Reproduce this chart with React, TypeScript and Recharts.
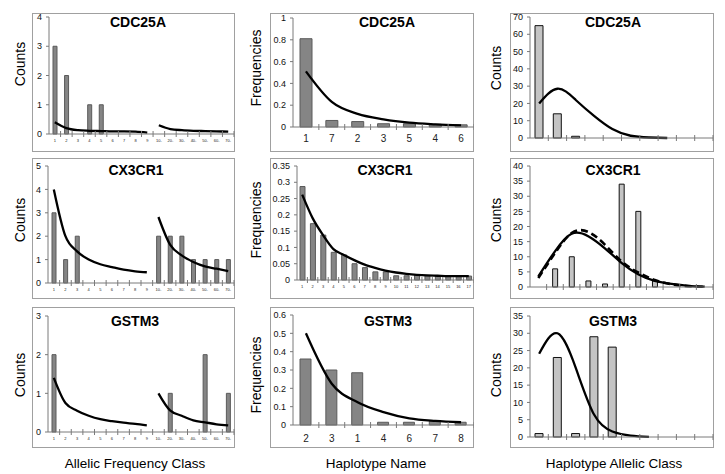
import { Bar, ComposedChart, Line, XAxis, YAxis } from "recharts";

const FONT = "'Liberation Sans', Arial, Helvetica, sans-serif";

// ---- column 1: allelic frequency class ----
const freqClasses = ["1", "2", "3", "4", "5", "6", "7", "8", "9", "10-", "20-", "30-", "40-", "50-", "60-", "70-"];

const cdcFreqCounts = [3, 2, 0, 1, 1, 0, 0, 0, 0, 0, 0, 0, 0, 0, 0, 0];
const cdcFreqFitA = [0.4, 0.2, 0.13, 0.11, 0.1, 0.09, 0.09, 0.08, 0.05];
const cdcFreqFitB = [null, null, null, null, null, null, null, null, null, 0.3, 0.17, 0.13, 0.11, 0.1, 0.09, 0.08];

const cx3FreqCounts = [3, 1, 2, 0, 0, 0, 0, 0, 0, 2, 2, 2, 1, 1, 1, 1];
const cx3FreqFitA = [4.0, 2.0, 1.35, 1.0, 0.8, 0.68, 0.57, 0.5, 0.46];
const cx3FreqFitB = [null, null, null, null, null, null, null, null, null, 2.82, 1.64, 1.18, 0.9, 0.71, 0.61, 0.51];

const gstFreqCounts = [2, 0, 0, 0, 0, 0, 0, 0, 0, 0, 1, 0, 0, 2, 0, 1];
const gstFreqFitA = [1.4, 0.75, 0.55, 0.42, 0.33, 0.28, 0.24, 0.21, 0.17];
const gstFreqFitB = [null, null, null, null, null, null, null, null, null, 1.0, 0.56, 0.42, 0.3, 0.25, 0.2, 0.17];

// ---- column 2: haplotype name ----
const cdcHaplotypes = ["1", "7", "2", "3", "5", "4", "6"];
const cdcHapFreq = [0.81, 0.06, 0.05, 0.03, 0.03, 0.025, 0.02];
const cdcHapFit = [0.51, 0.23, 0.12, 0.07, 0.04, 0.025, 0.015];

const cx3Haplotypes = ["1", "2", "3", "4", "5", "6", "7", "8", "9", "10", "11", "12", "13", "14", "15", "16", "17"];
const cx3HapFreq = [0.287, 0.173, 0.138, 0.085, 0.077, 0.05, 0.038, 0.025, 0.025, 0.013, 0.013, 0.015, 0.013, 0.012, 0.012, 0.012, 0.012];
const cx3HapFit = [0.262, 0.19, 0.138, 0.095, 0.077, 0.061, 0.047, 0.037, 0.029, 0.023, 0.019, 0.016, 0.014, 0.013, 0.012, 0.012, 0.012];

const gstHaplotypes = ["2", "3", "1", "4", "6", "7", "8"];
const gstHapFreq = [0.36, 0.3, 0.285, 0.015, 0.015, 0.02, 0.015];
const gstHapFit = [0.5, 0.225, 0.124, 0.07, 0.036, 0.022, 0.015];

// ---- column 3: haplotype allelic class ----
const allelicClasses10 = ["1", "2", "3", "4", "5", "6", "7", "8", "9", "10"];
const allelicClasses11 = ["1", "2", "3", "4", "5", "6", "7", "8", "9", "10", "11"];

const cdcClassCounts = [65, 14, 1, 0, 0, 0, 0, 0, 0, 0];
const cdcClassFit = [20, 28.5, 22, 12.8, 5.2, 1.3, 0.3, 0];

const cx3ClassCounts = [0, 6, 10, 2, 1, 34, 25, 2, 0, 0, 0];
const cx3ClassFit = [3.5, 11.8, 17.6, 16.8, 12.8, 8, 4.2, 2, 1, 0.4, 0.1];
const cx3ClassFitAlt = [3.0, 11.2, 17.8, 18.2, 14, 8.5, 4.8, 2.3, 0.9, 0.3, 0.05];

const gstClassCounts = [1, 23, 1, 29, 26, 0, 0, 0, 0, 0];
const gstClassFit = [24.1, 30, 20, 6.5, 1.6, 0.4, 0.05];

type Curve = "monotone" | "natural";

const toRows = (cats: string[], cols: Record<string, (number | null)[]>) =>
  cats.map((name, i) => {
    const row: Record<string, string | number | null> = { name };
    Object.entries(cols).forEach(([k, v]) => {
      row[k] = v[i] ?? null;
    });
    return row;
  });

interface PanelProps {
  box: [number, number, number, number];
  axisX: number;
  plotTop: number;
  plotBottom: number;
  plotRight: number;
  data: Record<string, string | number | null>[];
  yMax: number;
  yTicks: number[];
  title: string;
  titleAt: [number, number];
  barFill: string;
  barStroke: string;
  barSize: number;
  fits: { key: string; dashed?: boolean }[];
  labelSize: number;
  labelGap: number;
  curve?: Curve;
}

function Panel(p: PanelProps) {
  const [left, top, right, bottom] = p.box;
  const width = right - left;
  const height = bottom - top;
  const slot = (p.plotRight - p.axisX) / p.data.length;

  const renderTick = (props: any) => {
    const { x, y, payload } = props;
    return (
      <g>
        <line x1={x + slot / 2} x2={x + slot / 2} y1={y - 3} y2={y + 3} stroke="#7a7a7a" />
        {p.labelSize > 0 && (
          <text
            x={x}
            y={y + p.labelGap}
            textAnchor="middle"
            dominantBaseline="middle"
            fontSize={p.labelSize}
            fill="#222"
          >
            {payload.value}
          </text>
        )}
      </g>
    );
  };

  return (
    <>
      <div
        style={{
          position: "absolute",
          left,
          top,
          width,
          height,
          border: "1px solid #a0a0a0",
          boxSizing: "border-box",
        }}
      />
      <div style={{ position: "absolute", left, top }}>
        <ComposedChart
          width={width}
          height={height}
          data={p.data}
          margin={{ top: p.plotTop - top, right: right - p.plotRight, bottom: 0, left: 0 }}
        >
          <XAxis
            dataKey="name"
            height={bottom - p.plotBottom}
            interval={0}
            tickLine={false}
            tickSize={0}
            tickMargin={0}
            axisLine={{ stroke: "#7a7a7a" }}
            tick={renderTick}
          />
          <YAxis
            width={p.axisX - left}
            domain={[0, p.yMax]}
            ticks={p.yTicks}
            interval={0}
            tickSize={3}
            tickMargin={4}
            axisLine={{ stroke: "#7a7a7a" }}
            tickLine={{ stroke: "#7a7a7a" }}
            tick={{ fontSize: 9, fill: "#111", fontFamily: FONT }}
          />
          <Bar
            dataKey="bars"
            fill={p.barFill}
            stroke={p.barStroke}
            strokeWidth={1}
            barSize={p.barSize}
            isAnimationActive={false}
          />
          {p.fits.map((f) => (
            <Line
              key={f.key}
              dataKey={f.key}
              type={p.curve ?? "monotone"}
              stroke="#000"
              strokeWidth={f.dashed ? 2.6 : 2.3}
              strokeDasharray={f.dashed ? "7 4" : undefined}
              dot={false}
              isAnimationActive={false}
            />
          ))}
        </ComposedChart>
      </div>
      <div
        style={{
          position: "absolute",
          left: p.titleAt[0],
          top: p.titleAt[1],
          transform: "translate(-50%, -50%)",
          fontWeight: "bold",
          fontSize: 14,
          whiteSpace: "nowrap",
        }}
      >
        {p.title}
      </div>
    </>
  );
}

function SideLabel({ x, y, text }: { x: number; y: number; text: string }) {
  return (
    <div
      style={{
        position: "absolute",
        left: x,
        top: y,
        transform: "translate(-50%, -50%) rotate(-90deg)",
        fontSize: 14,
        whiteSpace: "nowrap",
      }}
    >
      {text}
    </div>
  );
}

function BottomLabel({ x, y, text }: { x: number; y: number; text: string }) {
  return (
    <div
      style={{
        position: "absolute",
        left: x,
        top: y,
        transform: "translate(-50%, -50%)",
        fontSize: 13.5,
        whiteSpace: "nowrap",
      }}
    >
      {text}
    </div>
  );
}

const DARK = "#858585";
const DARK_EDGE = "#5a5a5a";
const LIGHT = "#c4c4c4";

export default function App() {
  return (
    <div
      style={{
        position: "absolute",
        left: 0,
        top: 0,
        width: 725,
        height: 474,
        background: "#fff",
        fontFamily: FONT,
        color: "#000",
      }}
    >
      {/* column 1 */}
      <Panel
        box={[32, 13, 235, 152]}
        axisX={49}
        plotTop={17}
        plotBottom={134}
        plotRight={234}
        data={toRows(freqClasses, { bars: cdcFreqCounts, fitA: cdcFreqFitA, fitB: cdcFreqFitB })}
        yMax={4}
        yTicks={[0, 1, 2, 3, 4]}
        title="CDC25A"
        titleAt={[138, 22]}
        barFill={DARK}
        barStroke={DARK_EDGE}
        barSize={4}
        fits={[{ key: "fitA" }, { key: "fitB" }]}
        labelSize={4}
        labelGap={7}
      />
      <Panel
        box={[32, 158, 235, 299]}
        axisX={48}
        plotTop={166}
        plotBottom={283}
        plotRight={234}
        data={toRows(freqClasses, { bars: cx3FreqCounts, fitA: cx3FreqFitA, fitB: cx3FreqFitB })}
        yMax={5}
        yTicks={[0, 1, 2, 3, 4, 5]}
        title="CX3CR1"
        titleAt={[136, 170]}
        barFill={DARK}
        barStroke={DARK_EDGE}
        barSize={4}
        fits={[{ key: "fitA" }, { key: "fitB" }]}
        labelSize={4}
        labelGap={7}
      />
      <Panel
        box={[32, 307, 235, 448]}
        axisX={48}
        plotTop={316}
        plotBottom={432}
        plotRight={234}
        data={toRows(freqClasses, { bars: gstFreqCounts, fitA: gstFreqFitA, fitB: gstFreqFitB })}
        yMax={3}
        yTicks={[0, 1, 2, 3]}
        title="GSTM3"
        titleAt={[135, 321]}
        barFill={DARK}
        barStroke={DARK_EDGE}
        barSize={4}
        fits={[{ key: "fitA" }, { key: "fitB" }]}
        labelSize={4}
        labelGap={7}
      />

      {/* column 2 */}
      <Panel
        box={[270, 13, 474, 152]}
        axisX={293}
        plotTop={18}
        plotBottom={127}
        plotRight={474}
        data={toRows(cdcHaplotypes, { bars: cdcHapFreq, fit: cdcHapFit })}
        yMax={1}
        yTicks={[0, 0.2, 0.4, 0.6, 0.8, 1]}
        title="CDC25A"
        titleAt={[387, 22]}
        barFill={DARK}
        barStroke={DARK_EDGE}
        barSize={12}
        fits={[{ key: "fit" }]}
        labelSize={10}
        labelGap={12}
      />
      <Panel
        box={[270, 158, 474, 299]}
        axisX={297}
        plotTop={166}
        plotBottom={280}
        plotRight={474}
        data={toRows(cx3Haplotypes, { bars: cx3HapFreq, fit: cx3HapFit })}
        yMax={0.35}
        yTicks={[0, 0.05, 0.1, 0.15, 0.2, 0.25, 0.3, 0.35]}
        title="CX3CR1"
        titleAt={[385, 170]}
        barFill={DARK}
        barStroke={DARK_EDGE}
        barSize={5}
        fits={[{ key: "fit" }]}
        labelSize={4}
        labelGap={7}
      />
      <Panel
        box={[270, 307, 474, 448]}
        axisX={293}
        plotTop={315}
        plotBottom={425}
        plotRight={474}
        data={toRows(gstHaplotypes, { bars: gstHapFreq, fit: gstHapFit })}
        yMax={0.6}
        yTicks={[0, 0.1, 0.2, 0.3, 0.4, 0.5, 0.6]}
        title="GSTM3"
        titleAt={[388, 321]}
        barFill={DARK}
        barStroke={DARK_EDGE}
        barSize={11}
        fits={[{ key: "fit" }]}
        labelSize={10}
        labelGap={14}
      />

      {/* column 3 */}
      <Panel
        box={[510, 13, 714, 152]}
        axisX={530}
        plotTop={17}
        plotBottom={138}
        plotRight={713}
        data={toRows(allelicClasses10, { bars: cdcClassCounts, fit: cdcClassFit })}
        yMax={70}
        yTicks={[0, 10, 20, 30, 40, 50, 60, 70]}
        title="CDC25A"
        titleAt={[613, 22]}
        barFill={LIGHT}
        barStroke="#111"
        barSize={8}
        fits={[{ key: "fit" }]}
        labelSize={0}
        labelGap={0}
        curve="natural"
      />
      <Panel
        box={[510, 158, 714, 299]}
        axisX={530}
        plotTop={166}
        plotBottom={287}
        plotRight={713}
        data={toRows(allelicClasses11, { bars: cx3ClassCounts, fit: cx3ClassFit, fitAlt: cx3ClassFitAlt })}
        yMax={40}
        yTicks={[0, 5, 10, 15, 20, 25, 30, 35, 40]}
        title="CX3CR1"
        titleAt={[613, 170]}
        barFill={LIGHT}
        barStroke="#111"
        barSize={5}
        fits={[{ key: "fit" }, { key: "fitAlt", dashed: true }]}
        labelSize={0}
        labelGap={0}
        curve="natural"
      />
      <Panel
        box={[510, 307, 714, 448]}
        axisX={530}
        plotTop={316}
        plotBottom={437}
        plotRight={713}
        data={toRows(allelicClasses10, { bars: gstClassCounts, fit: gstClassFit })}
        yMax={35}
        yTicks={[0, 5, 10, 15, 20, 25, 30, 35]}
        title="GSTM3"
        titleAt={[613, 321]}
        barFill={LIGHT}
        barStroke="#111"
        barSize={8}
        fits={[{ key: "fit" }]}
        labelSize={0}
        labelGap={0}
        curve="natural"
      />

      <SideLabel x={20} y={64} text="Counts" />
      <SideLabel x={20} y={220} text="Counts" />
      <SideLabel x={20} y={375} text="Counts" />
      <SideLabel x={256} y={68} text="Frequencies" />
      <SideLabel x={256} y={220} text="Frequencies" />
      <SideLabel x={256} y={375} text="Frequencies" />
      <SideLabel x={496} y={68} text="Counts" />
      <SideLabel x={496} y={220} text="Counts" />
      <SideLabel x={496} y={375} text="Counts" />

      <BottomLabel x={135} y={463} text="Allelic Frequency Class" />
      <BottomLabel x={376} y={463} text="Haplotype Name" />
      <BottomLabel x={614} y={463} text="Haplotype Allelic Class" />
    </div>
  );
}
